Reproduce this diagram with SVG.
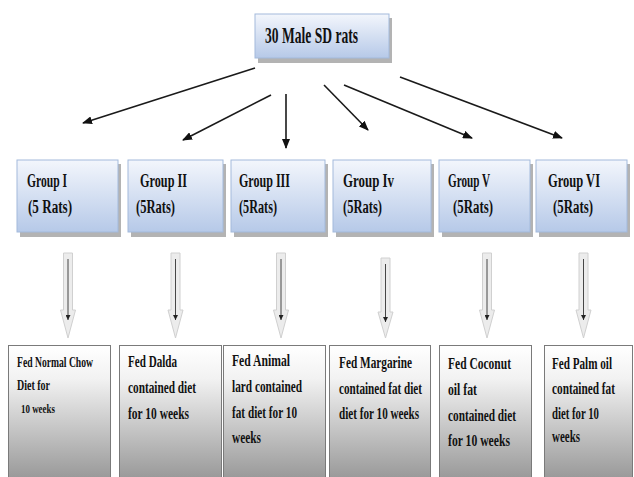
<svg xmlns="http://www.w3.org/2000/svg" width="634" height="477" viewBox="0 0 634 477">
<defs>
<linearGradient id="blue" x1="0" y1="0" x2="0" y2="1">
<stop offset="0" stop-color="#f3f6fc"/>
<stop offset="1" stop-color="#b6c9e8"/>
</linearGradient>
<linearGradient id="grey" x1="0" y1="0" x2="0" y2="1">
<stop offset="0" stop-color="#ffffff"/>
<stop offset="0.25" stop-color="#f2f2f2"/>
<stop offset="1" stop-color="#999999"/>
</linearGradient>
<marker id="ah" markerWidth="10" markerHeight="8" refX="9" refY="4" orient="auto" markerUnits="userSpaceOnUse">
<path d="M0,0 L10,4 L0,8 Z" fill="#111"/>
</marker>
<marker id="ahs" markerWidth="5" markerHeight="5" refX="5" refY="2.5" orient="auto" markerUnits="userSpaceOnUse">
<path d="M0,0 L5,2.5 L0,5 Z" fill="#222"/>
</marker>
</defs>
<style>
.bx{fill:url(#blue);stroke:#a3badc;stroke-width:1}
.sh{fill:#9a9a9a;opacity:0.75}
.gb{fill:url(#grey);stroke:#7a7a7a;stroke-width:1}
.t{font-family:"Liberation Serif","Times New Roman",serif;font-weight:bold;fill:#111}
.tt{font-size:24px}
.tg{font-size:18px}
.tb{font-size:16.5px}
.ts{font-size:14px}
.tx{font-size:12px}
.ln{stroke:#1a1a1a;stroke-width:1.6;fill:none;marker-end:url(#ah)}
.blk{fill:#ececec;stroke:#d0d0d0;stroke-width:1}
.il{stroke:#333;stroke-width:0.9;fill:none;marker-end:url(#ahs)}
</style>
<rect width="634" height="477" fill="#fff"/>

<g id="top">
<rect class="sh" x="258" y="18" width="134" height="45"/>
<rect class="bx" x="255" y="14" width="134" height="44"/>
<text class="t tt" x="265" y="43" textLength="93" lengthAdjust="spacingAndGlyphs">30 Male SD rats</text>
</g>

<g id="connectors">
<line class="ln" x1="255" y1="68" x2="83" y2="123"/>
<line class="ln" x1="271" y1="95" x2="183" y2="140"/>
<line class="ln" x1="286" y1="94" x2="286" y2="148"/>
<line class="ln" x1="324" y1="85" x2="368" y2="130"/>
<line class="ln" x1="344" y1="85" x2="472" y2="138"/>
<line class="ln" x1="400" y1="77" x2="562" y2="138"/>
<g id="blk1"><polygon class="blk" points="63.5,253 72.5,253 72.5,310 75.5,310 68,338 60.5,310 63.5,310"/><line class="il" x1="68" y1="259" x2="68" y2="320"/></g>
<g id="blk2"><polygon class="blk" points="171,253 180,253 180,310 183,310 175.5,338 168,310 171,310"/><line class="il" x1="175.5" y1="259" x2="175.5" y2="320"/></g>
<g id="blk3"><polygon class="blk" points="276.5,253 285.5,253 285.5,310 288.5,310 281,338 273.5,310 276.5,310"/><line class="il" x1="281" y1="259" x2="281" y2="320"/></g>
<g id="blk4"><polygon class="blk" points="381,258 390,258 390,312 393,312 385.5,338 378,312 381,312"/><line class="il" x1="385.5" y1="264" x2="385.5" y2="322"/></g>
<g id="blk5"><polygon class="blk" points="482.5,253 491.5,253 491.5,310 494.5,310 487,338 479.5,310 482.5,310"/><line class="il" x1="487" y1="259" x2="487" y2="320"/></g>
<g id="blk6"><polygon class="blk" points="579,253 588,253 588,310 591,310 583.5,338 576,310 579,310"/><line class="il" x1="583.5" y1="259" x2="583.5" y2="320"/></g>
</g>

<g id="g1">
<rect class="sh" x="20" y="164" width="101" height="73"/>
<rect class="bx" x="17" y="160" width="101" height="72"/>
<text class="t tg" x="27" y="187" textLength="40" lengthAdjust="spacingAndGlyphs">Group I</text>
<text class="t tg" x="28" y="213" textLength="44" lengthAdjust="spacingAndGlyphs">(5 Rats)</text>
</g>
<g id="g2">
<rect class="sh" x="131" y="164" width="95" height="73"/>
<rect class="bx" x="128" y="160" width="95" height="72"/>
<text class="t tg" x="140" y="187" textLength="47" lengthAdjust="spacingAndGlyphs">Group II</text>
<text class="t tg" x="136" y="213" textLength="39" lengthAdjust="spacingAndGlyphs">(5Rats)</text>
</g>
<g id="g3">
<rect class="sh" x="234" y="164" width="94" height="73"/>
<rect class="bx" x="231" y="160" width="94" height="72"/>
<text class="t tg" x="239" y="187" textLength="51" lengthAdjust="spacingAndGlyphs">Group III</text>
<text class="t tg" x="239" y="213" textLength="38" lengthAdjust="spacingAndGlyphs">(5Rats)</text>
</g>
<g id="g4">
<rect class="sh" x="336" y="164" width="98" height="73"/>
<rect class="bx" x="333" y="160" width="98" height="72"/>
<text class="t tg" x="343" y="187" textLength="51" lengthAdjust="spacingAndGlyphs">Group Iv</text>
<text class="t tg" x="343" y="213" textLength="39" lengthAdjust="spacingAndGlyphs">(5Rats)</text>
</g>
<g id="g5">
<rect class="sh" x="442" y="164" width="91" height="73"/>
<rect class="bx" x="439" y="160" width="91" height="72"/>
<text class="t tg" x="448" y="187" textLength="42" lengthAdjust="spacingAndGlyphs">Group V</text>
<text class="t tg" x="453" y="213" textLength="40" lengthAdjust="spacingAndGlyphs">(5Rats)</text>
</g>
<g id="g6">
<rect class="sh" x="539" y="164" width="91" height="73"/>
<rect class="bx" x="536" y="160" width="91" height="72"/>
<text class="t tg" x="548" y="187" textLength="52" lengthAdjust="spacingAndGlyphs">Group VI</text>
<text class="t tg" x="553" y="213" textLength="40" lengthAdjust="spacingAndGlyphs">(5Rats)</text>
</g>

<g id="d1">
<rect class="gb" x="8.5" y="345.5" width="102" height="133"/>
<text class="t ts" x="17" y="367" textLength="76" lengthAdjust="spacingAndGlyphs">Fed Normal Chow</text>
<text class="t ts" x="17" y="390" textLength="33" lengthAdjust="spacingAndGlyphs">Diet for</text>
<text class="t tx" x="21" y="413" textLength="34" lengthAdjust="spacingAndGlyphs">10 weeks</text>
</g>
<g id="d2">
<rect class="gb" x="119.5" y="345.5" width="102" height="133"/>
<text class="t tb" x="128" y="367" textLength="49" lengthAdjust="spacingAndGlyphs">Fed Dalda</text>
<text class="t tb" x="128" y="393" textLength="68" lengthAdjust="spacingAndGlyphs">contained diet</text>
<text class="t tb" x="128" y="419" textLength="61" lengthAdjust="spacingAndGlyphs">for 10 weeks</text>
</g>
<g id="d3">
<rect class="gb" x="223.5" y="345.5" width="102" height="133"/>
<text class="t tb" x="232" y="366" textLength="58" lengthAdjust="spacingAndGlyphs">Fed Animal</text>
<text class="t tb" x="232" y="392" textLength="70" lengthAdjust="spacingAndGlyphs">lard contained</text>
<text class="t tb" x="232" y="418" textLength="65" lengthAdjust="spacingAndGlyphs">fat diet for 10</text>
<text class="t tb" x="232" y="443" textLength="29" lengthAdjust="spacingAndGlyphs">weeks</text>
</g>
<g id="d4">
<rect class="gb" x="329.5" y="345.5" width="101" height="133"/>
<text class="t tb" x="339" y="368" textLength="73" lengthAdjust="spacingAndGlyphs">Fed Margarine</text>
<text class="t tb" x="339" y="394" textLength="83" lengthAdjust="spacingAndGlyphs">contained fat diet</text>
<text class="t tb" x="339" y="419" textLength="80" lengthAdjust="spacingAndGlyphs">diet for 10 weeks</text>
</g>
<g id="d5">
<rect class="gb" x="439.5" y="345.5" width="92" height="133"/>
<text class="t tb" x="448" y="369" textLength="63" lengthAdjust="spacingAndGlyphs">Fed Coconut</text>
<text class="t tb" x="448" y="395" textLength="29" lengthAdjust="spacingAndGlyphs">oil fat</text>
<text class="t tb" x="448" y="421" textLength="68" lengthAdjust="spacingAndGlyphs">contained diet</text>
<text class="t tb" x="448" y="446" textLength="62" lengthAdjust="spacingAndGlyphs">for 10 weeks</text>
</g>
<g id="d6">
<rect class="gb" x="544.5" y="345.5" width="88" height="133"/>
<text class="t tb" x="552" y="369" textLength="60" lengthAdjust="spacingAndGlyphs">Fed Palm oil</text>
<text class="t tb" x="552" y="394" textLength="63" lengthAdjust="spacingAndGlyphs">contained fat</text>
<text class="t tb" x="552" y="419" textLength="47" lengthAdjust="spacingAndGlyphs">diet for 10</text>
<text class="t tb" x="552" y="442" textLength="28" lengthAdjust="spacingAndGlyphs">weeks</text>
</g>
</svg>
